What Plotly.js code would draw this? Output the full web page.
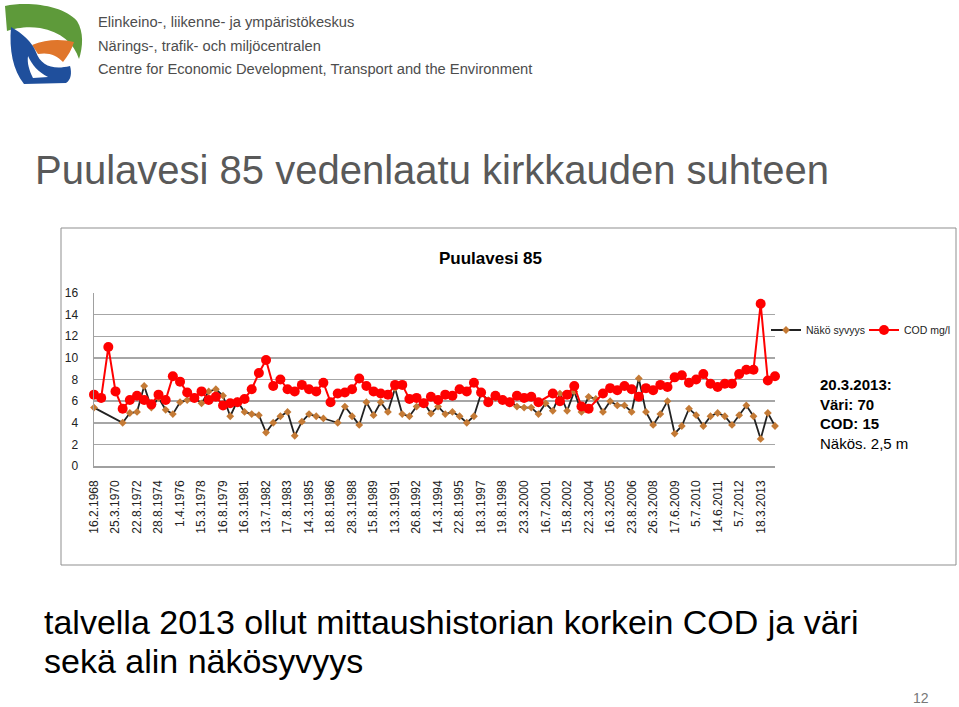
<!DOCTYPE html>
<html>
<head>
<meta charset="utf-8">
<script src="https://cdn.plot.ly/plotly-3.0.1.min.js"></script>
<style>
  html, body { margin: 0; padding: 0; background: #fff; }
  #chart { width: 959px; height: 707px; }
</style>
</head>
<body>
<div id="chart"></div>
<script>
const codValues = [
  6.6, 6.3, 11.0, 6.9, 5.3, 6.1, 6.5, 6.1, 5.7, 6.6,
  6.1, 8.3, 7.8, 6.8, 6.3, 6.9, 6.1, 6.4, 5.6, 5.8,
  5.9, 6.2, 7.1, 8.6, 9.8, 7.4, 8.0, 7.1, 6.9, 7.5,
  7.1, 6.9, 7.7, 5.9, 6.7, 6.8, 7.1, 8.1, 7.4, 6.9,
  6.7, 6.6, 7.5, 7.5, 6.2, 6.3, 5.8, 6.4, 6.1, 6.6,
  6.5, 7.1, 6.9, 7.7, 6.8, 5.9, 6.5, 6.1, 5.9, 6.5,
  6.3, 6.4, 5.9, null, 6.7, 6.0, 6.6, 7.4, 5.5, 5.3,
  null, 6.7, 7.2, 7.0, 7.4, 7.1, 6.4, 7.2, 7.0, 7.5,
  7.3, 8.2, 8.4, 7.7, 8.0, 8.5, 7.6, 7.3, 7.6, 7.6,
  8.5, 8.9, 8.9, 15.0, 7.9, 8.3
];

const secchiValues = [
  5.4, null, null, null, 4.0, 4.9, 5.0, 7.4, 5.4, 6.3,
  5.2, 4.8, 5.9, 6.1, 6.3, 5.8, 6.9, 7.1, 6.5, 4.6,
  6.0, 5.0, 4.8, 4.7, 3.1, 4.0, 4.6, 5.0, 2.8, 4.1,
  4.8, 4.6, 4.4, null, 4.0, 5.5, 4.6, 3.8, 5.9, 4.7,
  5.9, 5.0, 7.2, 4.8, 4.6, 5.5, 5.9, 4.85, 5.5, 4.8,
  5.0, 4.6, 4.0, 4.6, 6.7, 6.1, 6.3, 6.1, 6.0, 5.5,
  5.4, 5.4, 4.8, 5.8, 5.1, 6.7, 5.1, 6.9, 5.0, 6.4,
  6.2, 5.0, 6.0, 5.6, 5.6, 5.0, 8.1, 5.0, 3.8, 4.8,
  6.0, 3.0, 3.7, 5.3, 4.7, 3.7, 4.6, 4.9, 4.6, 3.8,
  4.7, 5.6, 4.6, 2.5, 4.9, 3.7
];

// every third sampling date is labelled on the axis
const tickLabels = [
  "16.2.1968", "25.3.1970", "22.8.1972", "28.8.1974", "1.4.1976",
  "15.3.1978", "16.8.1979", "16.3.1981", "13.7.1982", "17.8.1983",
  "14.3.1985", "18.8.1986", "28.3.1988", "15.8.1989", "13.3.1991",
  "26.8.1992", "14.3.1994", "22.8.1995", "18.3.1997", "19.8.1998",
  "23.3.2000", "16.7.2001", "15.8.2002", "22.3.2004", "16.3.2005",
  "23.8.2006", "26.3.2008", "17.6.2009", "5.7.2010", "14.6.2011",
  "5.7.2012", "18.3.2013"
];
const labelStep = 3;

const seriesNames = ["Näkö syvyys", "COD mg/l"];

const W = 959, H = 707;
const margin = { l: 94, r: 184, t: 293, b: 241, autoexpand: false };
const plotW = W - margin.l - margin.r;
const plotH = H - margin.t - margin.b;

// slide pixel -> paper coordinates
const px = (x) => (x - margin.l) / plotW;
const py = (y) => (H - margin.b - y) / plotH;
const toPaperPath = (d) =>
  d.replace(/(-?[\d.]+),(-?[\d.]+)/g, (m, a, b) =>
    px(+a).toFixed(4) + "," + py(+b).toFixed(4));

const xIdx = codValues.map((_, i) => i);

const traces = [
  {
    type: "scatter",
    mode: "lines+markers",
    name: seriesNames[0],
    legend: "legend",
    x: xIdx,
    y: secchiValues,
    connectgaps: true,
    cliponaxis: false,
    line: { color: "#222222", width: 1.8 },
    marker: { symbol: "diamond", size: 6, color: "#c47a35" },
  },
  {
    type: "scatter",
    mode: "lines+markers",
    name: seriesNames[1],
    legend: "legend2",
    x: xIdx,
    y: codValues,
    connectgaps: true,
    cliponaxis: false,
    line: { color: "#ff0000", width: 2 },
    marker: { symbol: "circle", size: 10, color: "#ff0000" },
  },
];

function note(text, x, y, size, extra) {
  return Object.assign({
    xref: "paper", yref: "paper",
    x: px(x), y: py(y),
    text: text,
    showarrow: false,
    xanchor: "left", yanchor: "middle",
    align: "left",
    font: { size: size, color: "#000" },
  }, extra || {});
}

const headColor = "#4d4d4d";
const annotations = [
  note("Elinkeino-, liikenne- ja ympäristökeskus", 96, 22, 14.7, { font: { size: 14.7, color: headColor } }),
  note("Närings-, trafik- och miljöcentralen", 96, 46, 14.7, { font: { size: 14.7, color: headColor } }),
  note("Centre for Economic Development, Transport and the Environment", 96, 69, 14.7, { font: { size: 14.7, color: headColor } }),
  note("Puulavesi 85 vedenlaatu kirkkauden suhteen", 33, 170, 40, { font: { size: 40, color: "#595959" } }),
  note("<b>Puulavesi 85</b>", 490, 258, 17, { xanchor: "center" }),
  note("<b>20.3.2013:</b><br><b>Väri: 70</b><br><b>COD: 15</b><br>Näkös. 2,5 m", 818, 374, 15, { yanchor: "top" }),
  note("talvella 2013 ollut mittaushistorian korkein COD ja väri", 42, 622, 34),
  note("sekä alin näkösyvyys", 42, 661, 34),
  note("12", 931, 698, 14, { xanchor: "right", font: { size: 14, color: "#777" } }),
];

const shapes = [
  {
    type: "rect", xref: "paper", yref: "paper",
    x0: px(61), y0: py(565), x1: px(956), y1: py(228),
    line: { color: "#8f8f8f", width: 1 },
    fillcolor: "rgba(0,0,0,0)", layer: "below",
  },
  // logo
  {
    type: "path", xref: "paper", yref: "paper", layer: "above",
    path: toPaperPath("M 5,6 C 30,1 64,6 77,21 C 84,32 83,47 79,59 C 74,43 61,32 40,28 C 28,26 15,28 7,31 Z"),
    fillcolor: "#5e9a3a", line: { width: 0 },
  },
  {
    type: "path", xref: "paper", yref: "paper", layer: "above",
    path: toPaperPath("M 32,45 C 46,39 62,39 74,42 C 72,49 68,56 63,62 C 57,55 48,52 38,54 Z"),
    fillcolor: "#e0762b", line: { width: 0 },
  },
  {
    type: "path", xref: "paper", yref: "paper", layer: "above",
    path: toPaperPath("M 11,27 C 22,33 32,42 36,52 C 41,66 53,70 70,66 C 72,73 71,80 66,83 L 24,84 C 13,70 9,50 11,27 Z"),
    fillcolor: "#1f4f9c", line: { width: 0 },
  },
  {
    type: "path", xref: "paper", yref: "paper", layer: "above",
    path: toPaperPath("M 28,56 C 32,65 38,72 48,77 L 33,78 C 29,70 27,63 28,56 Z"),
    fillcolor: "#ffffff", line: { width: 0 },
  },
];

const legendBase = {
  orientation: "h",
  xref: "container", yref: "container",
  y: 1 - 330 / H,
  xanchor: "left", yanchor: "middle",
  font: { size: 10.5, color: "#222" },
  itemwidth: 30,
  bgcolor: "rgba(0,0,0,0)",
};

const layout = {
  width: W,
  height: H,
  margin: margin,
  paper_bgcolor: "#ffffff",
  plot_bgcolor: "#ffffff",
  font: { family: "Liberation Sans, Arial, sans-serif", size: 12, color: "#222" },
  showlegend: true,
  legend: Object.assign({}, legendBase, { x: 766 / W }),
  legend2: Object.assign({}, legendBase, { x: 864 / W }),
  xaxis: {
    range: [0, codValues.length - 1],
    tickmode: "array",
    tickvals: tickLabels.map((_, i) => i * labelStep),
    ticktext: tickLabels,
    tickangle: -90,
    tickfont: { size: 12, color: "#222" },
    ticks: "",
    ticklabelstandoff: 8,
    showgrid: false,
    zeroline: false,
    showline: true,
    linecolor: "#a0a0a0",
    linewidth: 1.5,
    fixedrange: true,
  },
  yaxis: {
    range: [0, 16],
    tick0: 0,
    dtick: 2,
    tickfont: { size: 12, color: "#222" },
    ticks: "",
    ticklabelstandoff: 12,
    showgrid: true,
    gridcolor: "#a6a6a6",
    gridwidth: 1.5,
    zeroline: false,
    showline: true,
    linecolor: "#a0a0a0",
    linewidth: 1.5,
    fixedrange: true,
  },
  annotations: annotations,
  shapes: shapes,
};

Plotly.newPlot("chart", traces, layout, { displayModeBar: false, staticPlot: true });
</script>
</body>
</html>
